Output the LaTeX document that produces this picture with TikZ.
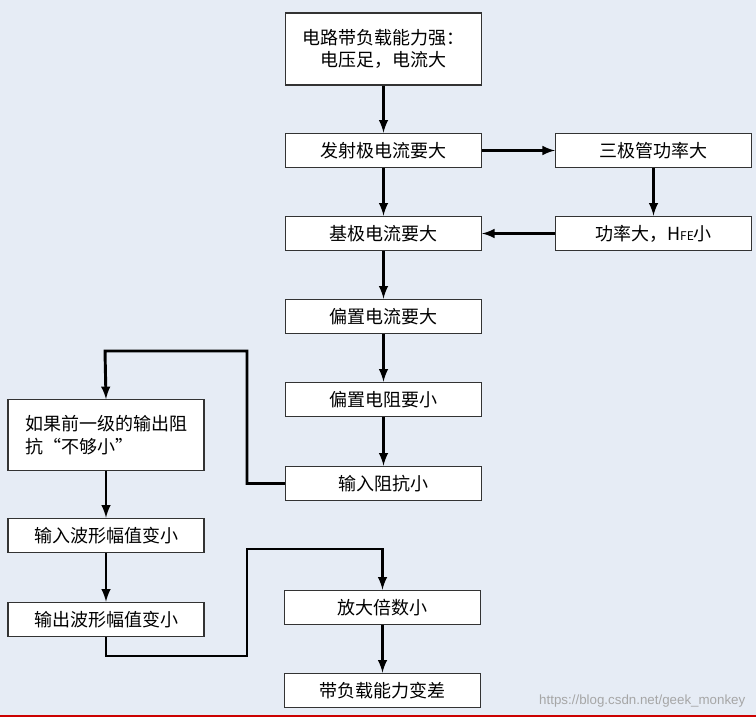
\documentclass[tikz,border=0pt]{standalone}
\usepackage{fontspec}
\setmainfont{Liberation Sans}
\newfontfamily\cjk{Noto Sans CJK SC}
\usetikzlibrary{positioning}
\definecolor{bgblue}{HTML}{E6ECF5}
\begin{document}
\begin{tikzpicture}[x=0.75pt,y=-0.75pt,>=latex]
        \tikzstyle{stage}=[draw=black!80,fill=white,thick,minimum width=147pt,minimum height=26pt,inner sep=1pt,font=\cjk\fontsize{13.5}{17}\selectfont,align=center]
        \tikzstyle{link}=[draw=black,line width=2.2pt,->]

        \fill[bgblue] (0,0) rectangle (756,717);
        \useasboundingbox (0,0) rectangle (756,717);
        \draw[red!80!black,thick] (0,716) -- (756,716);

        \node [stage,minimum height=54pt] (strong) at (383.5,49) {电路带负载能力强：\\电压足，电流大};
        \node [stage] (emit) at (383.5,150.5) {发射极电流要大};
        \node [stage] (pow) at (653.5,150.5) {三极管功率大};
        \node [stage] (base) at (383.5,233.5) {基极电流要大};
        \node [stage] (hfe) at (653.5,233.5) {功率大，H{\fontsize{9}{9}\selectfont FE}小};
        \node [stage] (bias) at (383.5,316.5) {偏置电流要大};
        \node [stage] (res) at (383.5,399.5) {偏置电阻要小};
        \node [stage] (imp) at (383.5,483.5) {输入阻抗小};
        \node [stage,minimum height=53pt,align=left] (prev) at (106,435) {如果前一级的输出阻\\抗“不够小”};
        \node [stage] (inw) at (106,535.5) {输入波形幅值变小};
        \node [stage] (outw) at (106,619.5) {输出波形幅值变小};
        \node [stage] (gain) at (382.5,607.5) {放大倍数小};
        \node [stage] (load) at (382.5,690.5) {带负载能力变差};

        \path[link] (strong) -- (emit);
        \path[link] (emit) -- (pow);
        \path[link] (emit) -- (base);
        \path[link] (pow) -- (hfe);
        \path[link] (hfe) -- (base);
        \path[link] (base) -- (bias);
        \path[link] (bias) -- (res);
        \path[link] (res) -- (imp);
        \path[link] (imp.west) -- ++(-38,0) |- (105,351) -- (prev.north);
        \path[link] (prev) -- (inw);
        \path[link] (inw) -- (outw);
        \path[link] (outw.south) |- (247,656) |- (382.5,549) -- (gain.north);
        \path[link] (gain) -- (load);

        \node [gray!70,font=\fontsize{10}{12}\selectfont,anchor=south east] (mark) at (750,712) {https://blog.csdn.net/geek\_monkey};
\end{tikzpicture}
\end{document}
